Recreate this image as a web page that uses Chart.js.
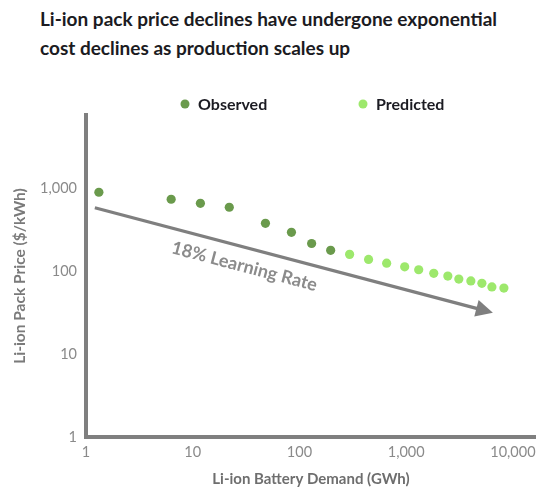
<!DOCTYPE html>
<html><head><meta charset="utf-8">
<script src="https://cdn.jsdelivr.net/npm/chart.js@4/dist/chart.umd.min.js"></script>
<style>
html,body{margin:0;padding:0;background:#fff;}
#wrap{position:relative;width:536px;height:489px;overflow:hidden;}
#title{position:absolute;left:40px;top:4px;font-family:Lato,sans-serif;font-weight:bold;font-size:19px;color:#1b1b22;line-height:29px;white-space:nowrap;}
canvas{position:absolute;left:0;top:0;}
</style></head><body>
<div id="wrap">
<div id="title">Li-ion pack price declines have undergone exponential<br>cost declines as production scales up</div>
<canvas id="c" width="536" height="489"></canvas>
</div>
<script>
// ---- data ----
const observedDemand = [1.32, 6.28, 11.8, 22.0, 48.0, 84.1, 130, 196];
const observedPrice  = [907, 746, 667, 597, 382, 297, 218, 180];
const predictedDemand = [295, 444, 656, 968, 1310, 1812, 2455, 3112, 4035, 5117, 6353, 8230];
const predictedPrice  = [161, 140, 126, 114, 105, 95, 88, 81, 77, 72, 65, 63];
const trendDemand = [1.21, 6490];
const trendPrice  = [589, 31.8];
const xTickValues = [1, 10, 100, 1000, 10000];
const yTickValues = [1, 10, 100, 1000];
const seriesNames = ['Observed', 'Predicted'];
const trendLabel = '18% Learning Rate';
const labelAnchor = {x: 30.5, y: 115};

const COL_OBS = '#6a9a4c';
const COL_PRED = '#9de86c';
const AXIS = '#7f7f7f';

const toPts = (xs, ys) => xs.map((x, i) => ({x: x, y: ys[i]}));

const overlay = {
  id: 'overlay',
  afterDatasetsDraw(chart) {
    const ctx = chart.ctx;
    const xs = chart.scales.x, ys = chart.scales.y;
    // trend arrow
    const x1 = xs.getPixelForValue(trendDemand[0]), y1 = ys.getPixelForValue(trendPrice[0]);
    const x2 = xs.getPixelForValue(trendDemand[1]), y2 = ys.getPixelForValue(trendPrice[1]);
    const ang = Math.atan2(y2 - y1, x2 - x1);
    const headLen = 17, headW = 8.5;
    ctx.save();
    ctx.strokeStyle = AXIS; ctx.fillStyle = AXIS; ctx.lineWidth = 3.2;
    ctx.beginPath();
    ctx.moveTo(x1, y1);
    ctx.lineTo(x2 - Math.cos(ang) * (headLen - 2), y2 - Math.sin(ang) * (headLen - 2));
    ctx.stroke();
    ctx.beginPath();
    ctx.moveTo(x2, y2);
    const bx = x2 - Math.cos(ang) * headLen, by = y2 - Math.sin(ang) * headLen;
    ctx.lineTo(bx + Math.sin(ang) * headW, by - Math.cos(ang) * headW);
    ctx.lineTo(bx - Math.sin(ang) * headW, by + Math.cos(ang) * headW);
    ctx.closePath(); ctx.fill();
    // label
    const lx = xs.getPixelForValue(labelAnchor.x), ly = ys.getPixelForValue(labelAnchor.y);
    ctx.translate(lx, ly); ctx.rotate(ang);
    ctx.fillStyle = '#8b8b8b';
    ctx.font = 'bold 18px Lato, sans-serif';
    ctx.textAlign = 'center'; ctx.textBaseline = 'middle';
    ctx.fillText(trendLabel, 0, 0);
    ctx.restore();
    // legend
    ctx.save();
    const items = [{x: 185, c: COL_OBS, t: seriesNames[0]}, {x: 363, c: COL_PRED, t: seriesNames[1]}];
    ctx.font = 'bold 16px Lato, sans-serif';
    ctx.textBaseline = 'middle'; ctx.textAlign = 'left';
    items.forEach(it => {
      ctx.fillStyle = it.c;
      ctx.beginPath(); ctx.arc(it.x, 104, 4.5, 0, Math.PI * 2); ctx.fill();
      ctx.fillStyle = '#1b1b22';
      ctx.fillText(it.t, it.x + 13, 105);
    });
    ctx.restore();
  }
};

new Chart(document.getElementById('c'), {
  type: 'scatter',
  data: {
    datasets: [
      {label: seriesNames[0], data: toPts(observedDemand, observedPrice), backgroundColor: COL_OBS, borderWidth: 0, pointRadius: 4.6},
      {label: seriesNames[1], data: toPts(predictedDemand, predictedPrice), backgroundColor: COL_PRED, borderWidth: 0, pointRadius: 4.6}
    ]
  },
  options: {
    responsive: false,
    animation: false,
    layout: {autoPadding: false, padding: {top: 115, left: 0, right: 0, bottom: 0}},
    plugins: {legend: {display: false}, tooltip: {enabled: false}},
    scales: {
      x: {
        type: 'logarithmic', min: 1, max: 16450,
        afterBuildTicks: s => { s.ticks = xTickValues.map(v => ({value: v})); },
        afterFit: s => { s.height = 52; s.paddingLeft = 0; s.paddingRight = 0; },
        grid: {display: false, drawTicks: false},
        border: {display: true, color: AXIS, width: 4},
        ticks: {color: '#8a8a8a', font: {family: 'Lato', size: 14.5}, padding: 7, autoSkip: false, maxRotation: 0,
                callback: v => Number(v).toLocaleString('en-US')},
        title: {display: true, text: 'Li-ion Battery Demand (GWh)', color: '#6e6e6e', font: {family: 'Lato', size: 15, weight: 'bold'}, padding: {top: 0, bottom: 1}}
      },
      y: {
        type: 'logarithmic', min: 1, max: 7780,
        afterBuildTicks: s => { s.ticks = yTickValues.map(v => ({value: v})); },
        afterFit: s => { s.width = 86; s.paddingTop = 0; s.paddingBottom = 0; },
        grid: {display: false, drawTicks: false},
        border: {display: true, color: AXIS, width: 4},
        ticks: {color: '#8a8a8a', font: {family: 'Lato', size: 14.5}, padding: 9, autoSkip: false,
                callback: v => Number(v).toLocaleString('en-US')},
        title: {display: true, text: 'Li-ion Pack Price ($/kWh)', color: '#7a7a7a', font: {family: 'Lato', size: 15.5, weight: 'bold'}, padding: {top: 11, bottom: 0}}
      }
    }
  },
  plugins: [overlay]
});
</script>
</body></html>
